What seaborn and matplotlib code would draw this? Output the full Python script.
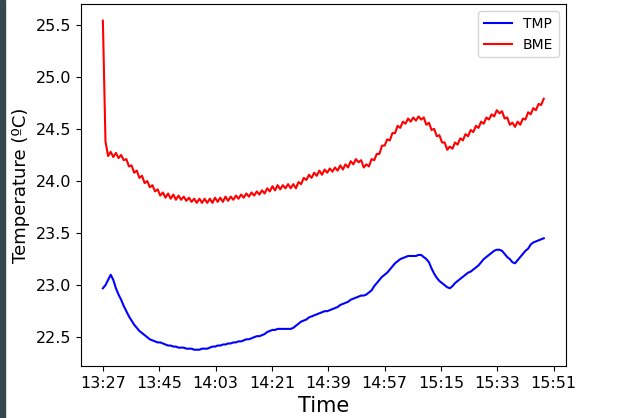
# -*- coding: utf-8 -*-

# Import libraries ======================================================================

import pandas as pd
import matplotlib
matplotlib.use("Agg")
import matplotlib.pyplot as plt
import matplotlib.dates as mdates
from matplotlib.patches import Rectangle
import seaborn as sns

# Data (one sample every 50 s starting at 13:27) ========================================

start_time = "2023-01-01 13:27:00"
sample_freq = "50s"

tmp_values = [
    22.97, 23.00, 23.05, 23.10, 23.05, 22.97, 22.91, 22.86, 22.80, 22.75,
    22.70, 22.66, 22.62, 22.59, 22.56, 22.54, 22.52, 22.50, 22.48, 22.47,
    22.46, 22.45, 22.45, 22.44, 22.43, 22.42, 22.42, 22.41, 22.41, 22.40,
    22.40, 22.40, 22.39, 22.39, 22.39, 22.38, 22.38, 22.38, 22.39, 22.39,
    22.39, 22.40, 22.41, 22.41, 22.42, 22.42, 22.43, 22.43, 22.44, 22.44,
    22.45, 22.45, 22.46, 22.46, 22.47, 22.48, 22.48, 22.49, 22.50, 22.51,
    22.51, 22.52, 22.53, 22.55, 22.56, 22.57, 22.57, 22.58, 22.58, 22.58,
    22.58, 22.58, 22.58, 22.59, 22.61, 22.63, 22.65, 22.66, 22.67, 22.69,
    22.70, 22.71, 22.72, 22.73, 22.74, 22.75, 22.75, 22.76, 22.77, 22.78,
    22.79, 22.81, 22.82, 22.83, 22.84, 22.86, 22.87, 22.88, 22.89, 22.90,
    22.90, 22.91, 22.93, 22.95, 22.99, 23.02, 23.05, 23.08, 23.10, 23.12,
    23.15, 23.18, 23.21, 23.23, 23.25, 23.26, 23.27, 23.28, 23.28, 23.28,
    23.28, 23.29, 23.29, 23.27, 23.25, 23.22, 23.16, 23.11, 23.07, 23.04,
    23.02, 23.00, 22.98, 22.97, 22.99, 23.02, 23.04, 23.06, 23.08, 23.10,
    23.12, 23.13, 23.15, 23.17, 23.19, 23.22, 23.25, 23.27, 23.29, 23.31,
    23.33, 23.34, 23.34, 23.33, 23.30, 23.27, 23.25, 23.22, 23.21, 23.24,
    23.27, 23.30, 23.33, 23.35, 23.39, 23.41, 23.42, 23.43, 23.44, 23.45,
]

bme_values = [
    25.54, 24.38, 24.24, 24.28, 24.23, 24.27, 24.22, 24.25, 24.20, 24.21,
    24.14, 24.15, 24.08, 24.10, 24.03, 24.05, 23.98, 24.00, 23.94, 23.96,
    23.90, 23.92, 23.86, 23.89, 23.84, 23.88, 23.83, 23.87, 23.82, 23.86,
    23.82, 23.85, 23.81, 23.84, 23.80, 23.83, 23.79, 23.83, 23.79, 23.83,
    23.79, 23.83, 23.79, 23.84, 23.80, 23.84, 23.80, 23.85, 23.81, 23.85,
    23.82, 23.86, 23.83, 23.87, 23.84, 23.88, 23.85, 23.89, 23.86, 23.90,
    23.87, 23.91, 23.88, 23.93, 23.90, 23.95, 23.91, 23.96, 23.92, 23.96,
    23.93, 23.97, 23.93, 23.97, 23.93, 23.99, 23.97, 24.03, 24.01, 24.06,
    24.03, 24.08, 24.05, 24.10, 24.06, 24.11, 24.08, 24.12, 24.09, 24.13,
    24.10, 24.15, 24.11, 24.16, 24.13, 24.19, 24.16, 24.21, 24.18, 24.20,
    24.13, 24.16, 24.14, 24.21, 24.20, 24.26, 24.26, 24.34, 24.34, 24.40,
    24.39, 24.46, 24.46, 24.53, 24.51, 24.57, 24.55, 24.60, 24.57, 24.61,
    24.58, 24.62, 24.59, 24.61, 24.54, 24.56, 24.49, 24.50, 24.43, 24.44,
    24.37, 24.37, 24.30, 24.33, 24.31, 24.37, 24.35, 24.41, 24.39, 24.45,
    24.43, 24.49, 24.47, 24.53, 24.51, 24.57, 24.55, 24.61, 24.59, 24.64,
    24.62, 24.68, 24.65, 24.67, 24.60, 24.61, 24.54, 24.56, 24.52, 24.57,
    24.54, 24.60, 24.59, 24.66, 24.64, 24.70, 24.68, 24.74, 24.73, 24.79,
]

tick_labels = ["13:27", "13:45", "14:03", "14:21", "14:39", "14:57", "15:15", "15:33", "15:51"]

# Build the dataframe ===================================================================

times = pd.date_range(start_time, periods=len(tmp_values), freq=sample_freq)
df = pd.DataFrame({"Time": times, "TMP": tmp_values, "BME": bme_values})

# Plot ==================================================================================

fig, ax = plt.subplots(figsize=(6.17, 4.18), dpi=100)
fig.subplots_adjust(left=0.131, right=0.917, top=0.990, bottom=0.124)

sns.lineplot(data=df, x="Time", y="TMP", color="blue", linewidth=1.5, label="TMP", ax=ax)
sns.lineplot(data=df, x="Time", y="BME", color="red", linewidth=1.5, label="BME", ax=ax)

tick_times = [pd.Timestamp("2023-01-01 " + t) for t in tick_labels]
ax.set_xticks(tick_times)
ax.xaxis.set_major_formatter(mdates.DateFormatter("%H:%M"))

ax.tick_params(labelsize=11.5)
ax.set_xlabel("Time", fontsize=15)
ax.set_ylabel("Temperature (ºC)", fontsize=13)
ax.legend(loc="upper right", fontsize=10)

# dark strip on the left edge of the screenshot
fig.patches.append(Rectangle((0, 0), 5 / 617, 1, transform=fig.transFigure,
                             color="#37474f", zorder=-1))

plt.savefig("out.png", dpi=100)
